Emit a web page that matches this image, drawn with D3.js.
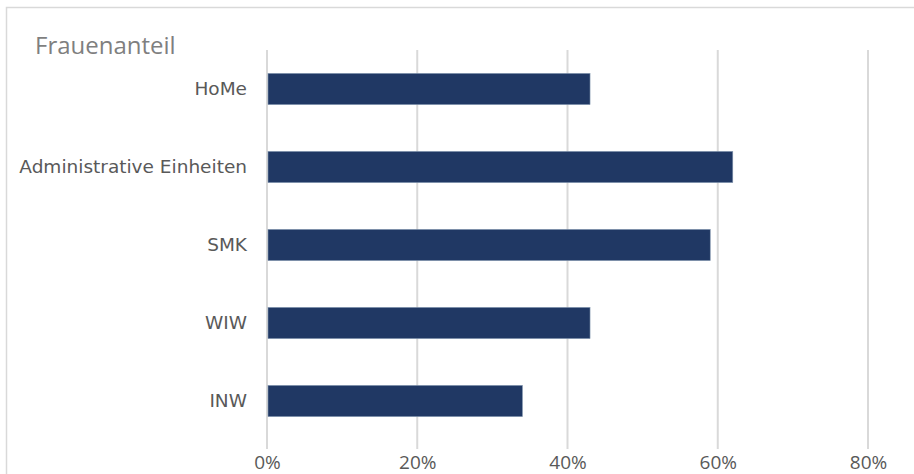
<!DOCTYPE html>
<html lang="de">

<head>
    <meta charset="UTF-8">
    <title>Frauenanteil</title>
    <script src="https://unpkg.com/d3@7.8.0/dist/d3.min.js"></script>
    <style>
        body {
            margin: 0px;
            background: #ffffff;
        }
    </style>
</head>

<body>
    <script>
        const categories = ['HoMe', 'Administrative Einheiten', 'SMK', 'WIW', 'INW'];
        const shares = [0.43, 0.62, 0.59, 0.43, 0.34];
        const xTicks = [0, 0.2, 0.4, 0.6, 0.8];

        const width = 914;
        const height = 474;
        const margin = { top: 50, right: 46, bottom: 34, left: 267 };

        const svg = d3.select('body').append('svg')
            .attr('width', width)
            .attr('height', height);

        // chart frame (runs off the right and bottom edge)
        svg.append('rect')
            .attr('x', 6.5)
            .attr('y', 7.5)
            .attr('width', 960)
            .attr('height', 520)
            .attr('fill', 'none')
            .attr('stroke', '#d9d9d9')
            .attr('stroke-width', 1.5);

        svg.append('text')
            .attr('x', 35)
            .attr('y', 54)
            .attr('fill', '#7f7f7f')
            .style('font-family', '"Open Sans", sans-serif')
            .style('font-size', '24px')
            .text('Frauenanteil');

        const g = svg.append('g')
            .attr('transform', `translate(${margin.left}, ${margin.top})`);
        const innerwidth = width - margin.left - margin.right;
        const innerheight = height - margin.top - margin.bottom;

        const xScale = d3.scaleLinear()
            .domain([0, 0.8])
            .range([0, innerwidth]);

        const yScale = d3.scaleBand()
            .domain(categories)
            .range([0, 390])
            .paddingInner(0.6)
            .paddingOuter(0.3);

        // gridlines
        g.selectAll('.grid').data(xTicks).enter().append('line')
            .attr('class', 'grid')
            .attr('x1', d => xScale(d))
            .attr('x2', d => xScale(d))
            .attr('y1', 0)
            .attr('y2', 399)
            .attr('stroke', '#d9d9d9')
            .attr('stroke-width', 2);

        // bars
        g.selectAll('.bar').data(shares).enter().append('rect')
            .attr('class', 'bar')
            .attr('x', xScale(0) + 1)
            .attr('y', (d, i) => yScale(categories[i]))
            .attr('width', d => xScale(d) - xScale(0) - 1)
            .attr('height', yScale.bandwidth())
            .attr('fill', '#203864')
            .attr('stroke', '#8497b0')
            .attr('stroke-width', 0.6);

        // category axis
        const yAxis = d3.axisLeft(yScale).tickSize(0).tickPadding(20);
        const yAxisG = g.append('g').call(yAxis);
        yAxisG.select('.domain').remove();
        yAxisG.selectAll('.tick text')
            .attr('fill', '#595959')
            .style('font-family', '"DejaVu Sans", Verdana, sans-serif')
            .style('font-size', '18.5px');

        // value axis
        const xAxis = d3.axisBottom(xScale)
            .tickValues(xTicks)
            .tickFormat(d3.format('.0%'))
            .tickSize(0)
            .tickPadding(16);
        const xAxisG = g.append('g')
            .attr('transform', `translate(0, ${innerheight})`)
            .call(xAxis);
        xAxisG.select('.domain').remove();
        xAxisG.selectAll('.tick text')
            .attr('fill', '#595959')
            .style('font-family', '"Open Sans", sans-serif')
            .style('font-size', '19px');
    </script>
</body>

</html>
